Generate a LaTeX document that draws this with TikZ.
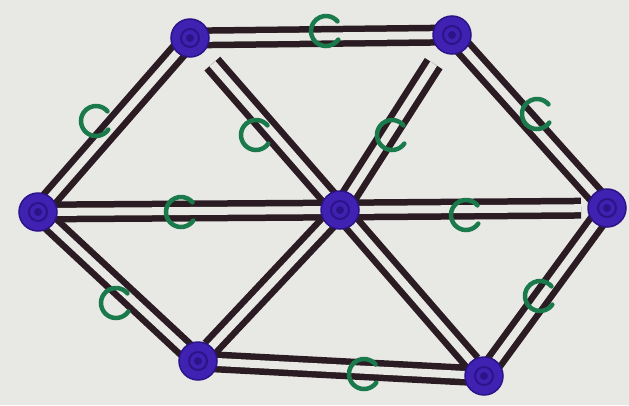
\documentclass[tikz,border=0pt]{standalone}
\usetikzlibrary{calc}
\definecolor{bg}{HTML}{E8E8E5}
\definecolor{ink}{HTML}{2A1C22}
\definecolor{blob}{HTML}{3F22B2}
\definecolor{blobdark}{HTML}{2C1488}
\definecolor{cgreen}{HTML}{1B7A4C}
\begin{document}
\begin{tikzpicture}[x=1pt,y=-1pt,
  vtx/.style={circle,fill=blob,draw=blobdark,line width=1.5pt,minimum size=38pt,inner sep=0pt,
    path picture={\draw[blobdark,line width=2pt] (path picture bounding box.center) circle (9pt);
                  \fill[blobdark] (path picture bounding box.center) circle (4pt);}},
  rod/.style={draw=ink,line width=6.5pt,double=bg,double distance=8pt,line cap=butt},
  cee/.pic={\draw[cgreen,line width=4.5pt,line cap=round] (35:15) arc[start angle=35,end angle=320,radius=15];}
]
\useasboundingbox[fill=bg] (0,0) rectangle (629,405);
% vertices (coordinates)
\coordinate (TL) at (190,38);
\coordinate (TR) at (452,35);
\coordinate (R) at (607,208);
\coordinate (BR) at (484,376);
\coordinate (BL) at (198,361);
\coordinate (L) at (38,212);
\coordinate (C) at (340,210);
% hexagon rods
\draw[rod,shorten <=12pt,shorten >=12pt] (TL) -- (TR);
\draw[rod,shorten <=12pt,shorten >=12pt] (TR) -- (R);
\draw[rod,shorten <=12pt,shorten >=12pt] (R) -- (BR);
\draw[rod,shorten <=12pt,shorten >=12pt] (BR) -- (BL);
\draw[rod,shorten <=12pt,shorten >=12pt] (BL) -- (L);
\draw[rod,shorten <=12pt,shorten >=12pt] (L) -- (TL);
% spokes
\draw[rod,shorten <=16pt,shorten >=34pt] (C) -- (TL);
\draw[rod,shorten <=16pt,shorten >=34pt] (C) -- (TR);
\draw[rod,shorten <=16pt,shorten >=26pt] (C) -- (R);
\draw[rod,shorten <=16pt,shorten >=18pt] (C) -- (BR);
\draw[rod,shorten <=16pt,shorten >=18pt] (C) -- (BL);
\draw[rod,shorten <=16pt,shorten >=18pt] (C) -- (L);
% joints
\node[vtx] (nTL) at (TL) {};
\node[vtx] (nTR) at (TR) {};
\node[vtx] (nR) at (R) {};
\node[vtx] (nBR) at (BR) {};
\node[vtx] (nBL) at (BL) {};
\node[vtx] (nL) at (L) {};
\node[vtx] (nC) at (C) {};
% green clips
\pic at (326,31) {cee};
\pic at (537,114) {cee};
\pic at (540,296) {cee};
\pic at (364,374) {cee};
\pic at (116,303) {cee};
\pic at (96,121) {cee};
\pic at (256,135) {cee};
\pic at (392,135) {cee};
\pic at (466,215) {cee};
\pic at (181,212) {cee};
\end{tikzpicture}
\end{document}
